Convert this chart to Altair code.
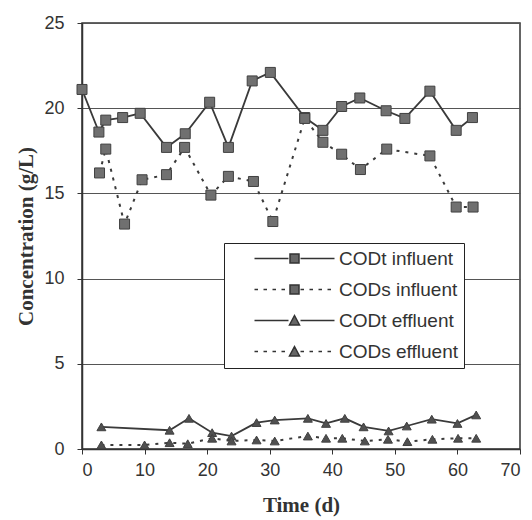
import altair as alt
import pandas as pd

# ---- data ----
codt_inf_day = [0, 2.7, 3.8, 6.5, 9.3, 13.5, 16.5, 20.4, 23.4, 27.2, 30.1, 35.6, 38.5, 41.5, 44.4, 48.6, 51.6, 55.6, 59.8, 62.4]
codt_inf_val = [21.1, 18.6, 19.3, 19.45, 19.7, 17.7, 18.5, 20.35, 17.7, 21.6, 22.1, 19.45, 18.7, 20.1, 20.6, 19.85, 19.4, 21.0, 18.7, 19.45]

cods_inf_day = [2.8, 3.8, 6.8, 9.6, 13.5, 16.4, 20.6, 23.4, 27.4, 30.5, 35.6, 38.5, 41.5, 44.5, 48.7, 55.6, 59.8, 62.5]
cods_inf_val = [16.2, 17.6, 13.2, 15.8, 16.1, 17.7, 14.9, 16.0, 15.7, 13.35, 19.4, 18.0, 17.3, 16.4, 17.6, 17.2, 14.2, 14.2]

codt_eff_day = [3.1, 14, 17.1, 20.8, 23.9, 27.9, 30.8, 36.1, 39, 42, 45, 49, 51.9, 55.9, 60, 63]
codt_eff_val = [1.3, 1.1, 1.8, 0.96, 0.76, 1.55, 1.7, 1.8, 1.5, 1.8, 1.3, 1.06, 1.35, 1.75, 1.5, 2.0]

cods_eff_day = [3.1, 10, 14, 16.9, 20.8, 23.9, 27.9, 30.8, 36.1, 39, 41.6, 45.2, 48.9, 52, 56, 60.1, 63]
cods_eff_val = [0.24, 0.24, 0.37, 0.31, 0.63, 0.47, 0.53, 0.47, 0.76, 0.63, 0.63, 0.47, 0.57, 0.43, 0.57, 0.63, 0.63]

series_names = ["CODt influent", "CODs influent", "CODt effluent", "CODs effluent"]
x_ticks = [0, 10, 20, 30, 40, 50, 60, 70]
y_ticks = [0, 5, 10, 15, 20, 25]

rows = []
for name, days, vals, kind, style in [
    (series_names[0], codt_inf_day, codt_inf_val, "square", "solid"),
    (series_names[1], cods_inf_day, cods_inf_val, "square", "dash"),
    (series_names[2], codt_eff_day, codt_eff_val, "triangle", "solid"),
    (series_names[3], cods_eff_day, cods_eff_val, "triangle", "dash"),
]:
    for d, v in zip(days, vals):
        rows.append({"series": name, "label": name, "day": d, "conc": v,
                     "marker": kind, "style": style})
df = pd.DataFrame(rows)

# ---- legend symbol paths (line + marker); unit = 5 px (symbolSize 100) ----
A, B, C, H = 3.0, 19.0, 11.0, 0.9


def seg_path(x0, x1, dashed):
    if not dashed:
        return f"M{x0:.2f},0H{x1:.2f}"
    out = []
    dash, gap = 0.7, 1.1
    x = x0
    while x < x1 - 0.1:
        e = min(x + dash, x1)
        out.append(f"M{x:.2f},0H{e:.2f}")
        x = e + gap
    return "".join(out)


def sym(dashed, marker):
    p = seg_path(A, C - H - 0.3, dashed) + seg_path(C + H + 0.3, B, dashed)
    if marker == "square":
        p += f"M{C-H:.2f},{-H:.2f}H{C+H:.2f}V{H:.2f}H{C-H:.2f}Z"
    else:
        p += f"M{C:.2f},{-H-0.1:.2f}L{C+H+0.1:.2f},{H:.2f}L{C-H-0.1:.2f},{H:.2f}Z"
    return p


legend_shapes = [sym(False, "square"), sym(True, "square"), sym(False, "triangle"), sym(True, "triangle")]

xs = alt.X("day:Q", scale=alt.Scale(domain=[0, 70], nice=False, zero=False),
           axis=alt.Axis(values=x_ticks, title="Time (d)", grid=False, format="d"))
ys = alt.Y("conc:Q", scale=alt.Scale(domain=[0, 25], nice=False),
           axis=alt.Axis(values=y_ticks, title="Concentration (g/L)", grid=True, format="d"))

base = alt.Chart(df)

solid_lines = base.transform_filter(alt.datum.style == "solid").mark_line(
    color="#3a3a3a", strokeWidth=1.8
).encode(x=xs, y=ys, detail="series:N")

dash_lines = base.transform_filter(alt.datum.style == "dash").mark_line(
    color="#3a3a3a", strokeWidth=2, strokeDash=[3, 6]
).encode(x=xs, y=ys, detail="series:N")

squares = base.transform_filter(alt.datum.marker == "square").mark_point(
    shape="square", filled=True, size=100, fill="#707070", stroke="#404040", strokeWidth=1, opacity=1
).encode(x=xs, y=ys)

triangles = base.transform_filter(alt.datum.marker == "triangle").mark_point(
    shape="triangle-up", filled=True, size=80, fill="#505050", stroke="#404040", strokeWidth=1, opacity=1
).encode(x=xs, y=ys)

legend_layer = base.mark_point(opacity=0, filled=True, fill="#666666", stroke="#333333", strokeWidth=1.5).encode(
    x=xs, y=ys,
    shape=alt.Shape("label:N", scale=alt.Scale(domain=series_names, range=legend_shapes),
                    legend=alt.Legend(
                        orient="none", legendX=142, legendY=220, title=None,
                        labelFont="Liberation Sans", labelFontSize=19, labelColor="#333",
                        labelOffset=90, padding=6, rowPadding=11,
                        strokeColor="#222", fillColor="white",
                        symbolSize=100, symbolStrokeWidth=1.5,
                        symbolOpacity=1,
                    )),
)

chart = alt.layer(solid_lines, dash_lines, squares, triangles, legend_layer).properties(
    width=438, height=426,
    autosize=alt.AutoSizeParams(type="none"),
    padding={"left": 82, "top": 23, "right": 12, "bottom": 71},
).configure_view(
    stroke="#333", strokeWidth=1.5
).configure_axis(
    labelFont="Liberation Sans", labelFontSize=18, labelColor="#333",
    titleFont="Liberation Serif", titleFontSize=21, titleFontWeight="bold", titleColor="#333",
    domainColor="#333", domainWidth=1.5, tickColor="#333", tickSize=5,
    gridColor="#555", gridWidth=1, gridOpacity=1,
).configure_axisY(
    labelPadding=13, titlePadding=7,
).configure_axisX(
    labelPadding=7, titlePadding=15,
)

chart.save("out.html", embed_options={"renderer": "svg", "actions": False})
